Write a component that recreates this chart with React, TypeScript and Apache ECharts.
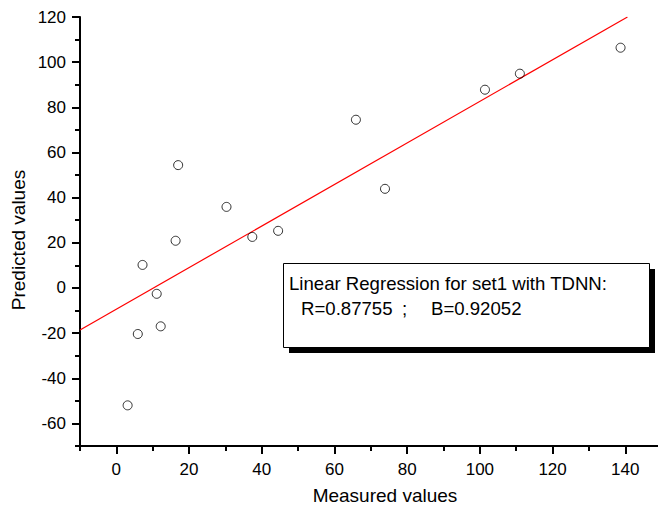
import React, { useEffect, useRef } from "react";
import * as echarts from "echarts";

const measured = [3.1, 5.9, 7.2, 11.1, 12.2, 16.3, 17.0, 30.3, 37.4, 44.5, 65.9, 73.9, 101.4, 111.0, 138.7];
const predicted = [-52, -20.4, 10.2, -2.6, -17, 20.9, 54.4, 35.9, 22.6, 25.3, 74.5, 43.9, 87.8, 94.9, 106.4];
const fitX = [-10, 140.6];
const fitY = [-18.6, 120];
const xMajor = [0, 20, 40, 60, 80, 100, 120, 140];
const xMinor = [-10, 10, 30, 50, 70, 90, 110, 130];
const yMajor = [-60, -40, -20, 0, 20, 40, 60, 80, 100, 120];
const yMinor = [-70, -50, -30, -10, 10, 30, 50, 70, 90, 110];
const legendTitle = "Linear Regression for set1 with TDNN:";
const legendR = "R=0.87755";
const legendSep = ";";
const legendB = "B=0.92052";
const xTitle = "Measured values";
const yTitle = "Predicted values";

const FONT = "'Liberation Sans', Arial, Helvetica, sans-serif";

export default function App() {
  const ref = useRef<HTMLDivElement>(null);
  useEffect(() => {
    if (!ref.current) return;
    const chart = echarts.init(ref.current, null, { renderer: "svg" });
    const xBase = { type: "value", min: -10, max: 149, gridIndex: 0, position: "bottom", splitLine: { show: false } };
    const yBase = { type: "value", min: -70, max: 120, gridIndex: 0, position: "left", splitLine: { show: false } };
    const legendFont = `18.6px ${FONT}`;
    chart.setOption({
      animation: false,
      backgroundColor: "#ffffff",
      grid: { left: 80, top: 17, width: 578, height: 429, containLabel: false },
      xAxis: [
        {
          ...xBase,
          axisLine: { show: true, onZero: false, lineStyle: { color: "#000", width: 2 } },
          axisTick: { show: true, customValues: xMajor, length: 8, lineStyle: { color: "#000", width: 2 } },
          axisLabel: { show: true, customValues: xMajor, color: "#000", fontSize: 17, fontFamily: FONT, margin: 15 },
        },
        {
          ...xBase,
          axisLine: { show: false, onZero: false },
          axisTick: { show: true, customValues: xMinor, length: 5, lineStyle: { color: "#000", width: 2 } },
          axisLabel: { show: false },
        },
      ],
      yAxis: [
        {
          ...yBase,
          axisLine: { show: true, onZero: false, lineStyle: { color: "#000", width: 2 } },
          axisTick: { show: true, customValues: yMajor, length: 8, lineStyle: { color: "#000", width: 2 } },
          axisLabel: { show: true, customValues: yMajor, color: "#000", fontSize: 17, fontFamily: FONT, margin: 14 },
        },
        {
          ...yBase,
          axisLine: { show: false, onZero: false },
          axisTick: { show: true, customValues: yMinor, length: 5, lineStyle: { color: "#000", width: 2 } },
          axisLabel: { show: false },
        },
      ],
      series: [
        {
          type: "line",
          xAxisIndex: 0,
          yAxisIndex: 0,
          data: fitX.map((x, i) => [x, fitY[i]]),
          symbol: "none",
          lineStyle: { color: "#ff0000", width: 1.2 },
          z: 2,
        },
        {
          type: "scatter",
          xAxisIndex: 0,
          yAxisIndex: 0,
          data: measured.map((x, i) => [x, predicted[i]]),
          symbol: "circle",
          symbolSize: 9,
          itemStyle: { color: "rgba(255,255,255,0)", borderColor: "#000", borderWidth: 1 },
          z: 3,
        },
      ],
      graphic: [
        { type: "rect", shape: { x: 289, y: 269, width: 366, height: 84 }, style: { fill: "#000" }, z: 10 },
        { type: "rect", shape: { x: 283.5, y: 263.5, width: 366, height: 84 }, style: { fill: "#fff", stroke: "#000", lineWidth: 1 }, z: 11 },
        { type: "text", x: 289, y: 283, style: { text: legendTitle, font: legendFont, fill: "#000", textVerticalAlign: "middle" }, z: 12 },
        { type: "text", x: 301, y: 308, style: { text: legendR, font: legendFont, fill: "#000", textVerticalAlign: "middle" }, z: 12 },
        { type: "text", x: 402, y: 308, style: { text: legendSep, font: legendFont, fill: "#000", textVerticalAlign: "middle" }, z: 12 },
        { type: "text", x: 431, y: 308, style: { text: legendB, font: legendFont, fill: "#000", textVerticalAlign: "middle" }, z: 12 },
        { type: "text", x: 385, y: 495, style: { text: xTitle, font: `19px ${FONT}`, fill: "#000", textAlign: "center", textVerticalAlign: "middle" } },
        { type: "text", x: 18, y: 240, rotation: Math.PI / 2, style: { text: yTitle, font: `19px ${FONT}`, fill: "#000", textAlign: "center", textVerticalAlign: "middle" } },
      ],
    });
    return () => chart.dispose();
  }, []);
  return <div ref={ref} style={{ position: "fixed", left: 0, top: 0, width: 658, height: 506 }} />;
}
